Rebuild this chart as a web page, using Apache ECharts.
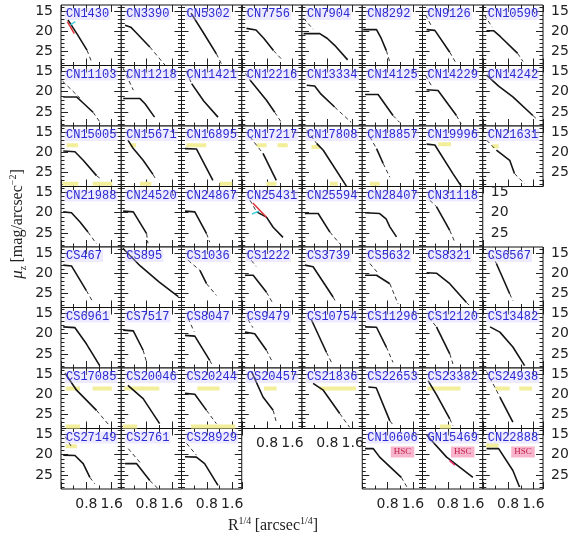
<!DOCTYPE html>
<html><head><meta charset="utf-8">
<script src="https://cdn.jsdelivr.net/npm/echarts@6/dist/echarts.min.js"></script>
<style>html,body{margin:0;padding:0;background:#fff}#c{width:575px;height:539px}</style>
</head><body><div id="c"></div>
<script>
// ---------- DATA ----------
const panelNames = [
 'CN1430','CN3390','CN5302','CN7756','CN7904','CN8292','CN9126','CN10590',
 'CN11103','CN11218','CN11421','CN12216','CN13334','CN14125','CN14229','CN14242',
 'CN15005','CN15671','CN16895','CN17217','CN17808','CN18857','CN19996','CN21631',
 'CN21988','CN24520','CN24867','CN25431','CN25594','CN28407','CN31118',
 'CS467','CS895','CS1036','CS1222','CS3739','CS5632','CS8321','CS6567',
 'CS6961','CS7517','CS8047','CS9479','CS10754','CS11296','CS12120','CS13482',
 'CS17085','CS20046','CS20244','CS20457','CS21836','CS22653','CS23382','CS24938',
 'CS27149','CS2761','CS28929','CN10606','GN15469','CN22888'
];
// solid profile (R^1/4, mu_z)
const solidProfiles = [
 [[0.22,17.2],[0.5,20.6],[0.82,24.7]],
 [[0.12,18.5],[0.3,19.0],[0.45,20.2],[0.9,23.9]],
 [[0.3,15.5],[0.7,20.5],[1.1,25.6]],
 [[0.15,19.3],[0.45,19.7],[0.7,21.8],[1.0,24.8]],
 [[0.05,20.6],[0.56,20.6],[0.8,21.8],[1.03,23.5],[1.44,27.1]],
 [[0.03,19.6],[0.45,19.6],[0.6,21.8],[0.76,24.8]],
 [[0.13,19.6],[0.39,19.8],[0.86,25.2]],
 [[0.12,19.9],[0.35,19.9],[0.55,21.3],[1.1,25.5]],
 [[0.07,21.3],[0.49,21.3],[0.7,22.8],[1.01,25.1]],
 [[0.06,21.7],[0.59,21.7],[0.75,23.0],[1.05,26.3]],
 [[0.32,18.0],[0.7,22.3],[1.15,26.3]],
 [[0.26,17.1],[0.78,22.1],[1.04,25.1]],
 [[0.15,18.4],[0.4,18.6],[0.6,20.6],[1.03,23.8]],
 [[0.09,20.7],[0.5,20.7],[0.97,25.9]],
 [[0.13,19.5],[0.49,19.7],[1.07,25.9]],
 [[0.12,15.9],[0.5,18.6],[0.95,21.3],[1.58,25.9]],
 [[0.07,19.7],[0.44,19.9],[0.7,22.0],[1.12,25.8]],
 [[0.21,17.0],[0.38,19.1],[0.69,22.0],[1.0,25.5]],
 [[0.11,19.1],[0.47,19.2],[0.99,27.0]],
 [[0.67,20.3],[1.09,27.0]],
 [[0.46,17.8],[0.67,19.5],[1.4,28.4]],
 [[0.45,19.1],[0.66,22.8]],
 [[0.13,18.0],[0.39,18.2],[0.96,25.3],[1.22,28.4]],
 [[0.43,19.5],[0.85,22.0],[1.0,25.3]],
 [[0.07,19.8],[0.33,20.0],[0.6,22.3],[0.85,24.8]],
 [[0.06,19.6],[0.38,19.8],[0.8,25.2]],
 [[0.11,19.6],[0.42,19.8],[0.79,25.2]],
 [[0.47,19.8],[0.78,21.1],[0.99,23.6],[1.3,26.1]],
 [[0.09,20.2],[0.51,20.2],[0.88,24.8]],
 [[0.09,20.0],[0.55,20.2],[0.75,21.5],[0.87,23.5],[1.08,26.0]],
 [[0.44,18.5],[0.86,24.4]],
 [[0.07,18.0],[0.33,18.2],[0.8,24.3]],
 [[0.05,13.8],[0.6,18.2],[1.2,22.2],[1.8,25.8]],
 [[0.58,19.3],[0.79,22.6]],
 [[0.1,20.5],[0.36,20.5],[0.78,24.7]],
 [[0.09,18.0],[0.35,18.4],[0.98,25.9]],
 [[0.09,20.5],[0.45,20.5],[0.87,22.6]],
 [[0.13,19.9],[0.44,20.0],[0.86,22.6],[1.38,27.2]],
 [[0.43,17.6],[0.85,25.1]],
 [[0.07,18.3],[0.44,18.5],[0.8,22.5],[1.22,27.9]],
 [[0.06,19.1],[0.38,19.3],[0.69,24.1]],
 [[0.11,20.4],[0.42,20.6],[0.89,26.6]],
 [[0.1,19.6],[0.41,20.0],[0.78,24.1]],
 [[0.3,16.6],[0.77,24.6]],
 [[0.09,18.3],[0.45,18.4],[0.76,23.3]],
 [[0.44,18.3],[0.86,25.0]],
 [[0.23,18.3],[0.54,19.6],[0.95,23.3],[1.32,27.9]],
 [[0.13,14.8],[0.49,19.0],[1.12,24.0]],
 [[0.21,17.8],[0.69,21.1],[1.21,27.3]],
 [[0.11,19.8],[0.42,20.0],[0.79,24.0]],
 [[0.31,14.4],[0.67,20.7],[0.99,24.0]],
 [[0.35,17.3],[0.67,19.0],[1.19,24.8]],
 [[0.19,18.2],[0.44,18.4],[0.87,26.6]],
 [[0.18,16.7],[0.44,20.1],[0.86,26.1]],
 [[0.54,20.7],[0.95,26.9]],
 [[0.07,20.1],[0.44,20.2],[0.7,22.2],[0.91,25.6]],
 [[0.12,22.2],[0.48,22.2],[0.9,26.4]],
 [[0.11,20.5],[0.47,20.6],[0.73,22.2],[1.15,27.6]],
 [[0.09,18.5],[0.35,18.5],[0.55,20.6],[1.23,25.6]],
 [[0.13,15.1],[0.76,20.6],[1.59,25.6]],
 [[0.12,18.5],[0.5,18.5],[0.95,23.9],[1.16,28.0]]
];
// dashed profile segments
const dashedProfiles = [
 [[[0.82,24.7],[0.96,27.5]]],
 [[[0.9,23.9],[1.38,28.4]]],
 [[[1.1,25.6],[1.26,28.1]]],
 [[[1.0,24.8],[1.3,27.3]]],
 [[[0.05,16.8],[0.35,19.5]]],
 [[[0.76,24.8],[0.87,27.7]]],
 [[[0.86,25.2],[1.07,28.1]],[[0.1,16.0],[0.3,19.0]]],
 [[[1.1,25.5],[1.27,27.5]],[[0.05,16.0],[0.3,19.0]]],
 [[[1.01,25.1],[1.27,28.0]],[[0.05,17.4],[0.6,21.6]]],
 [[[0.06,14.2],[0.38,19.6]]],
 [[[0.16,15.1],[0.32,18.0]]],
 [[[1.04,25.1],[1.25,27.6]],[[0.12,15.5],[0.26,17.1]]],
 [[[1.03,23.8],[1.55,27.6]]],
 [[[0.97,25.9],[1.18,27.6]]],
 [[[1.07,25.9],[1.22,28.0]],[[0.1,16.0],[0.3,18.8]]],
 [[[1.58,25.9],[1.72,26.9]]],
 [[[1.12,25.8],[1.27,26.7]]],
 [[[1.0,25.5],[1.11,27.0]]],
 [],
 [[[0.26,16.2],[0.67,20.3]]],
 [[[0.15,14.5],[0.46,17.8]]],
 [[[0.24,16.2],[0.45,19.1]],[[0.66,22.8],[0.87,26.2]]],
 [],
 [[[0.12,17.0],[0.43,19.5]],[[1.0,25.3],[1.32,27.8]]],
 [[[0.85,24.8],[1.12,27.7]]],
 [[[0.8,25.2],[0.84,27.6]]],
 [[[0.79,25.2],[0.89,27.3]],[[0.2,15.8],[0.3,17.2]]],
 [[[0.26,16.9],[0.47,19.8]]],
 [[[0.88,24.8],[1.19,27.7]]],
 [],
 [[[0.23,16.9],[0.44,18.5]],[[0.86,24.4],[1.02,27.3]]],
 [[[0.8,24.3],[1.01,27.2]]],
 [],
 [[[0.21,16.8],[0.58,19.3]],[[0.79,22.6],[1.1,25.5]]],
 [[[0.78,24.7],[0.99,27.6]],[[0.3,16.8],[0.45,18.3]]],
 [[[0.98,25.9],[1.05,26.9]]],
 [[[0.24,17.6],[0.5,20.0]],[[0.87,22.6],[1.13,27.6]]],
 [[[1.38,27.2],[1.54,28.5]]],
 [[[0.3,15.5],[0.43,17.6]],[[0.85,25.1],[0.95,26.8]]],
 [],
 [[[0.69,24.1],[0.8,27.1]]],
 [[[0.21,16.2],[0.4,19.5]],[[0.89,26.6],[0.97,27.8]]],
 [[[0.78,24.1],[0.94,26.6]],[[0.2,16.5],[0.35,18.5]]],
 [[[0.77,24.6],[0.93,27.1]]],
 [[[0.76,23.3],[0.97,27.1]]],
 [[[0.2,16.0],[0.44,18.3]],[[0.86,25.0],[0.96,27.5]]],
 [],
 [[[1.12,24.0],[1.53,27.8]]],
 [],
 [[[0.79,24.0],[1.1,27.3]]],
 [[[0.99,24.0],[1.09,26.9]]],
 [[[1.19,24.8],[1.5,28.2]]],
 [[[0.87,26.6],[0.97,27.6]]],
 [[[0.86,26.1],[0.96,27.8]]],
 [[[0.12,14.4],[0.43,19.0],[0.54,20.7]]],
 [[[0.91,25.6],[1.06,27.2]],[[0.13,15.5],[0.33,18.0]]],
 [[[0.9,26.4],[1.16,28.4]],[[0.22,18.5],[0.6,22.0]]],
 [[[0.16,17.2],[0.47,20.1]]],
 [[[1.23,25.6],[1.44,28.4]]],
 [],
 []
];
// yellow horizontal marks: [x1, x2, mu]
const yellowMarks = [
 [],[],[],[],[],[],[],[],
 [],[],[],[],[],[],[],[],
 [[0.18,0.54,18.3],[0.05,0.55,27.8],[1.0,1.62,27.8]],
 [[0.27,0.47,18.3],[0.59,0.95,27.8]],
 [[0.15,0.78,18.3],[1.2,1.6,27.8]],
 [[0.47,0.78,18.3],[1.13,1.45,18.3],[0.78,1.09,27.8]],
 [[0.3,0.56,18.7],[0.88,1.13,27.8]],
 [[0.24,0.55,27.8]],
 [[0.5,0.9,18.0]],
 [[0.3,0.5,18.5]],
 [],[],[],[],[],[],[],
 [],[],[],[],[],[],[],[],
 [],[],[],[],[],[],[],[],
 [[0.15,0.6,18.6],[1.0,1.6,18.6],[0.15,0.6,28.0]],
 [[0.1,1.2,18.6],[0.05,0.5,28.0]],
 [[0.5,1.2,18.6],[0.3,1.7,28.0]],
 [[0.7,1.1,18.6]],
 [[0.55,1.7,18.6]],
 [],
 [[0.15,1.2,18.6],[0.55,0.9,28.0]],
 [[0.4,0.85,18.6],[1.15,1.55,18.6]],
 [[0.15,0.5,17.9]],[],[],[],[],[[0.1,0.5,17.7]]
];
// coloured accent segments: [panelIndex, colour, points]
const accentMarks = [
 [0,'#e0303a',[[0.2,17.6],[0.42,20.6]]],
 [0,'#40d0e0',[[0.3,18.4],[0.45,17.6]]],
 [27,'#e0303a',[[0.35,17.6],[0.78,21.1]]],
 [27,'#40d0e0',[[0.32,20.3],[0.55,19.6]]],
 [59,'#e8306a',[[0.85,21.4],[1.02,22.6]]]
];
const hscPanels = [58,59,60];
const yMajorTicks = [15,20,25];
const yMinorTicks = [14,15,16,17,18,19,20,21,22,23,24,25,26,27,28];
const xTickLabels = ['0.8','1.6'];

// ---------- LAYOUT ----------
const W = 60.25, H = 60.5, L0 = 61, T0 = 5;
const cells = [];
for (let r = 0; r < 8; r++) {
  let cols = [0,1,2,3,4,5,6,7];
  if (r === 3) cols = [0,1,2,3,4,5,6];
  if (r === 7) cols = [0,1,2,5,6,7];
  cols.forEach(c => cells.push([r,c]));
}
const occupied = new Set(cells.map(([r,c]) => r*8+c));

const grids = [], xAxes = [], yAxes = [], series = [], graphics = [];
const tickFont = {fontFamily:'DejaVu Sans', fontSize:14, color:'#222'};

cells.forEach(([r,c], i) => {
  const left = L0 + c*W, top = T0 + r*H;
  grids.push({left, top, width: W, height: H, show: true, borderColor:'#111', borderWidth:1, backgroundColor:'#fff'});
  const showX = r === 7 || (r === 6 && !occupied.has(7*8 + c));
  const showYL = c === 0;
  const showYR = c === 7 || (r === 3 && c === 6);
  const xBase = {gridIndex:i, type:'value', min:0, max:1.9, interval:0.8,
    axisLine:{show:false}, splitLine:{show:false},
    axisTick:{inside:true, length:7, lineStyle:{color:'#222', width:1}},
    minorTick:{show:true, splitNumber:2, length:3.5, lineStyle:{color:'#222', width:1}}};
  xAxes.push(Object.assign({}, xBase, {position:'bottom',
    axisLabel:{show:showX, margin:8, ...tickFont,
      formatter: v => Math.abs(v-0.8)<1e-6 ? xTickLabels[0] : (Math.abs(v-1.6)<1e-6 ? xTickLabels[1] : '')}}));
  xAxes.push(Object.assign({}, xBase, {position:'top', axisLabel:{show:false}}));
  const yBase = {gridIndex:i, type:'value', min:13.5, max:28.5, inverse:true,
    axisLine:{show:false}, splitLine:{show:false}};
  ['left','right'].forEach(pos => {
    const showL = pos === 'left' ? showYL : showYR;
    yAxes.push(Object.assign({}, yBase, {position:pos,
      axisTick:{inside:true, length:7, customValues:yMajorTicks, lineStyle:{color:'#222'}},
      axisLabel:{show:showL, customValues:yMajorTicks, margin:8, ...tickFont}}));
    yAxes.push(Object.assign({}, yBase, {position:pos,
      axisTick:{inside:true, length:3.5, customValues:yMinorTicks, lineStyle:{color:'#222'}},
      axisLabel:{show:false}}));
  });
  const xi = 2*i, yi = 4*i;
  yellowMarks[i].forEach(([a,b,m]) => series.push({type:'line', xAxisIndex:xi, yAxisIndex:yi,
    data:[[a,m],[b,m]], symbol:'none', silent:true, lineStyle:{color:'#f2ee9a', width:4}}));
  series.push({type:'line', xAxisIndex:xi, yAxisIndex:yi, data:solidProfiles[i], symbol:'none',
    lineStyle:{color:'#151515', width:1.6}});
  dashedProfiles[i].forEach(seg => series.push({type:'line', xAxisIndex:xi, yAxisIndex:yi, data:seg,
    symbol:'none', lineStyle:{color:'#333', width:1, type:[4,3]}}));
  graphics.push({type:'text', x:left+4, y:top+3, z:50, style:{text:panelNames[i],
    font:'12px "Liberation Mono", monospace', fill:'#2a2ad2', backgroundColor:'rgba(205,195,255,0.35)', padding:[0,1]}});
  if (hscPanels.includes(i)) {
    graphics.push({type:'text', x:left+W-20, y:top+18, z:50, style:{text:'HSC', align:'center',
      font:'9px "Liberation Serif", serif', fill:'#c0204a', backgroundColor:'#f7b4cc', padding:[1,3]}});
  }
});
accentMarks.forEach(([i,col,pts]) => series.push({type:'line', xAxisIndex:2*i, yAxisIndex:4*i,
  data:pts, symbol:'none', z:3, lineStyle:{color:col, width:1.5}}));

graphics.push({type:'text', x:273, y:525, style:{
  text:'{r|R}{s|1/4} {r|[arcsec}{s|1/4}{r|]}', align:'center', verticalAlign:'middle',
  rich:{r:{font:'16px "Liberation Serif", serif', fill:'#222', lineHeight:18, verticalAlign:'bottom'},
        s:{font:'10px "Liberation Serif", serif', fill:'#222', lineHeight:18, verticalAlign:'top'}}}});
graphics.push({type:'text', x:18, y:224, rotation:Math.PI/2, style:{
  text:'{m|μ}{b|z} {r|[mag/arcsec}{s|−2}{r|]}', align:'center', verticalAlign:'middle',
  rich:{m:{font:'italic 17px "Liberation Serif", serif', fill:'#222', lineHeight:20, verticalAlign:'middle'},
        b:{font:'10px "Liberation Serif", serif', fill:'#222', lineHeight:20, verticalAlign:'bottom'},
        r:{font:'16px "Liberation Serif", serif', fill:'#222', lineHeight:20, verticalAlign:'middle'},
        s:{font:'10px "Liberation Serif", serif', fill:'#222', lineHeight:20, verticalAlign:'top'}}}});

const chart = echarts.init(document.getElementById('c'), null, {renderer:'canvas'});
chart.setOption({animation:false, backgroundColor:'#fff', grid:grids, xAxis:xAxes, yAxis:yAxes, series, graphic:graphics});
</script></body></html>
